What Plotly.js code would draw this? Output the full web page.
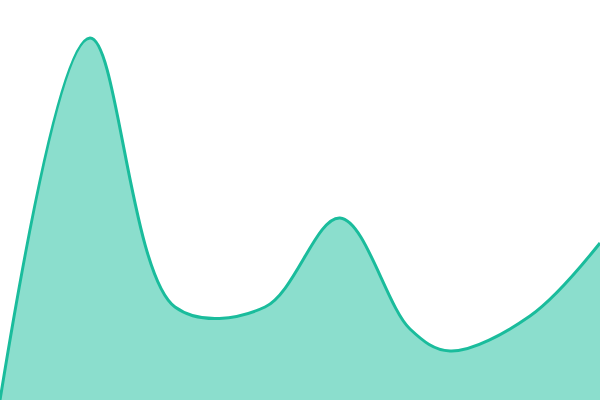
<!DOCTYPE html>
<html>
<head>
<meta charset="utf-8">
<script src="https://cdn.plot.ly/plotly-3.0.1.min.js"></script>
<style>html,body{margin:0;padding:0;background:#fff}</style>
</head>
<body>
<div id="chart" style="width:600px;height:400px"></div>
<script>
var xs = [0, 90, 175, 265, 340, 410, 450, 530, 600];
var ys = [0, 362, 93, 93, 182, 71, 49, 84, 157];

var area = {
  x: xs,
  y: ys,
  type: 'scatter',
  mode: 'lines',
  fill: 'tozeroy',
  fillcolor: 'rgba(24,190,155,0.5)',
  line: {shape: 'spline', smoothing: 1, color: '#1abc9c', width: 3},
  hoverinfo: 'skip'
};

var layout = {
  width: 600,
  height: 400,
  margin: {l: 0, r: 0, t: 0, b: 0},
  showlegend: false,
  paper_bgcolor: '#fff',
  plot_bgcolor: '#fff',
  xaxis: {range: [0, 600], visible: false, fixedrange: true},
  yaxis: {range: [0, 400], visible: false, fixedrange: true}
};

Plotly.newPlot('chart', [area], layout, {displayModeBar: false, staticPlot: true});
</script>
</body>
</html>
